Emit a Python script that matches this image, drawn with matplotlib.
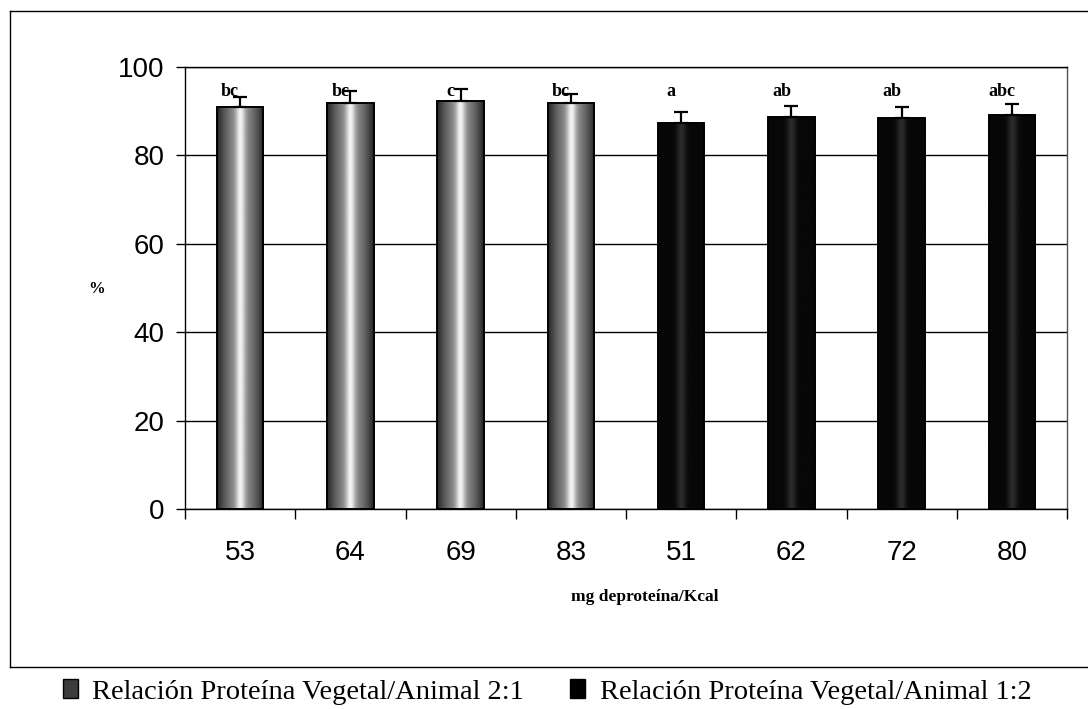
"""Bar chart: % by mg de proteína/Kcal for two vegetable/animal protein ratios."""

import numpy as np
import matplotlib

matplotlib.use("Agg")
import matplotlib.pyplot as plt
from matplotlib.lines import Line2D
from matplotlib.patches import Patch

# data
categories = ["53", "64", "69", "83", "51", "62", "72", "80"]
means = [91.0, 91.9, 92.3, 91.9, 87.3, 88.8, 88.4, 89.1]
errors = [2.2, 2.7, 2.8, 2.0, 2.5, 2.4, 2.5, 2.5]
letters = ["bc", "bc", "c", "bc", "a", "ab", "ab", "abc"]
groups = [0, 0, 0, 0, 1, 1, 1, 1]
legend_labels = [
    "Relación Proteína Vegetal/Animal 2:1",
    "Relación Proteína Vegetal/Animal 1:2",
]
y_ticks = [0, 20, 40, 60, 80, 100]

SANS = "Liberation Sans"
SERIF = "Liberation Serif"

fig = plt.figure(figsize=(10.88, 7.09), dpi=100)
ax = fig.add_axes([185 / 1088, 1 - 509 / 709, (1067 - 185) / 1088, (509 - 67) / 709])

x = np.arange(len(categories))
bars = ax.bar(x, means, width=0.42, color="none", edgecolor="black",
              linewidth=1.4, zorder=3)

# stippled look: dark edges, light centre for group 0; nearly black for group 1
u = np.linspace(0, 1, 64)
profile_light = 0.15 + 0.42 * np.sin(np.pi * u) + 0.38 * np.exp(-((u - 0.5) / 0.1) ** 2)
profile_dark = 0.03 + 0.14 * np.exp(-((u - 0.5) / 0.1) ** 2)
for bar, g in zip(bars, groups):
    prof = profile_light if g == 0 else profile_dark
    x0, w, h = bar.get_x(), bar.get_width(), bar.get_height()
    im = ax.imshow(prof[np.newaxis, :], cmap="gray", vmin=0, vmax=1,
                   extent=(x0, x0 + w, 0, h), aspect="auto", zorder=2.5,
                   interpolation="bilinear")
    im.set_clip_path(bar)

ax.errorbar(x, means, yerr=[np.zeros(len(errors)), errors], fmt="none",
            ecolor="black", elinewidth=1.6, capsize=5, capthick=1.6, zorder=4)

for xi, lab in zip(x, letters):
    ax.text(xi - 0.09, 93.5, lab, ha="center", va="baseline", fontsize=13,
            fontweight="bold", family=SERIF, zorder=5)

ax.set_xlim(-0.5, len(categories) - 0.5)
ax.set_ylim(0, 100)
ax.set_yticks(y_ticks)
ax.set_yticklabels([str(t) for t in y_ticks], fontsize=20, family=SANS)
ax.set_xticks(x)
ax.set_xticklabels(categories, fontsize=20, family=SANS)
ax.set_xticks(np.arange(-0.5, len(categories), 1.0), minor=True)
ax.tick_params(axis="x", which="major", length=0, pad=22)
ax.tick_params(axis="x", which="minor", length=7, width=1, direction="out")
ax.tick_params(axis="y", length=6.5, width=1, direction="out", pad=8)

ax.grid(axis="y", color="black", linewidth=1.0, zorder=1)
ax.set_axisbelow(True)
for side in ("left", "bottom", "top"):
    ax.spines[side].set_color("black")
    ax.spines[side].set_linewidth(1.0)
ax.spines["right"].set_color("#555555")
ax.spines["right"].set_linewidth(1.0)

ax.set_xlabel("mg deproteína/Kcal", fontsize=12.5, fontweight="bold", family=SERIF)
ax.xaxis.set_label_coords((645 - 185) / (1067 - 185), -(597 - 509) / (509 - 67))
ax.xaxis.label.set_va("center")
ax.set_ylabel("%", fontsize=12, fontweight="bold", family=SERIF, rotation=0)
ax.yaxis.set_label_coords((97 - 185) / (1067 - 185), (509 - 289) / (509 - 67))
ax.yaxis.label.set_va("center")

# outer chart frame
W, H = 1088, 709
frame = dict(color="black", linewidth=1.0, transform=fig.transFigure)
fig.add_artist(Line2D([10 / W, 10 / W], [1 - 11 / H, 1 - 667 / H], **frame))
fig.add_artist(Line2D([10 / W, 1.0], [1 - 11 / H, 1 - 11 / H], **frame))
fig.add_artist(Line2D([10 / W, 1.0], [1 - 667 / H, 1 - 667 / H], **frame))

handles = [
    Patch(facecolor="#3c3c3c", edgecolor="black"),
    Patch(facecolor="black", edgecolor="black"),
]
fig.legend(handles, legend_labels, loc="center", ncol=2,
           bbox_to_anchor=(547 / W, 1 - 692 / H), frameon=False,
           prop={"family": SERIF, "size": 20.5}, handlelength=0.55,
           handleheight=0.65, handletextpad=0.5, columnspacing=1.6,
           borderpad=0, borderaxespad=0)

fig.savefig("out.png", dpi=100)
